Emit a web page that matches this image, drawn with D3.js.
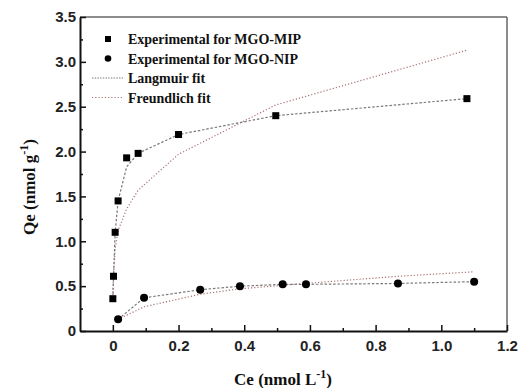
<!DOCTYPE html>
<html>
<head>
<meta charset="utf-8">
<script src="https://cdn.jsdelivr.net/npm/d3@7"></script>
<style>
  body { margin: 0; background: #fff; }
  .tick text { font-family: "Liberation Sans", Arial, sans-serif; font-weight: bold; font-size: 15px; fill: #222; }
  .lbl { font-family: "Liberation Serif", "Times New Roman", serif; font-weight: bold; fill: #111; }
</style>
</head>
<body>
<svg id="chart" width="520" height="388"></svg>
<script>
// MGO-MIP data (squares)
var mipCe = [0.0, 0.002, 0.007, 0.016, 0.042, 0.077, 0.2, 0.496, 1.078];
var mipQe = [0.36, 0.61, 1.10, 1.45, 1.93, 1.98, 2.19, 2.40, 2.59];
var mipLangmuir = [0.36, 0.61, 1.10, 1.45, 1.83, 1.98, 2.19, 2.40, 2.59];
var mipFreundlich = [0.36, 0.60, 0.92, 1.12, 1.36, 1.57, 1.97, 2.52, 3.13];

// MGO-NIP data (circles)
var nipCe = [0.016, 0.095, 0.266, 0.387, 0.517, 0.588, 0.868, 1.1];
var nipQe = [0.13, 0.37, 0.46, 0.50, 0.52, 0.52, 0.53, 0.55];
var nipLangmuir = [0.13, 0.37, 0.46, 0.50, 0.52, 0.52, 0.53, 0.55];
var nipFreundlich = [0.13, 0.27, 0.41, 0.47, 0.51, 0.53, 0.61, 0.66];

var xTicks = [0, 0.2, 0.4, 0.6, 0.8, 1.0, 1.2];
var xMinor = [0.1, 0.3, 0.5, 0.7, 0.9, 1.1];
var yTicks = [0, 0.5, 1.0, 1.5, 2.0, 2.5, 3.0, 3.5];
var yMinor = [0.25, 0.75, 1.25, 1.75, 2.25, 2.75, 3.25];

var legendLabels = ["Experimental for MGO-MIP", "Experimental for MGO-NIP", "Langmuir fit", "Freundlich fit"];

var langColor = "#7a7a7a", freuColor = "#a87070";

// plot box
var plotLeft = 80, plotRight = 507, plotTop = 17, plotBottom = 331;

var svg = d3.select("#chart");

var x = d3.scaleLinear().domain([-0.1, 1.2]).range([plotLeft, plotRight]);
var y = d3.scaleLinear().domain([0, 3.5]).range([plotBottom, plotTop]);

var fmt = function(d) { return d === 0 ? "0" : d3.format(".1f")(d); };

// top and right frame
svg.append("line")
  .attr("x1", x(-0.1)).attr("x2", x(1.2)).attr("y1", y(3.5)).attr("y2", y(3.5))
  .attr("stroke", "#666").attr("stroke-width", 1.5);
svg.append("line")
  .attr("x1", x(1.2)).attr("x2", x(1.2)).attr("y1", y(0)).attr("y2", y(3.5))
  .attr("stroke", "#666").attr("stroke-width", 1.5);

// minor ticks
svg.append("g")
  .attr("transform", "translate(0," + plotBottom + ")")
  .call(d3.axisBottom(x).tickValues(xMinor).tickSize(-3).tickFormat(""))
  .call(function(g) { g.select(".domain").remove(); g.selectAll("line").attr("stroke", "#111").attr("stroke-width", 1.5); });
svg.append("g")
  .attr("transform", "translate(" + plotLeft + ",0)")
  .call(d3.axisLeft(y).tickValues(yMinor).tickSize(-3).tickFormat(""))
  .call(function(g) { g.select(".domain").remove(); g.selectAll("line").attr("stroke", "#111").attr("stroke-width", 1.5); });

// x axis
svg.append("g")
  .attr("transform", "translate(0," + plotBottom + ")")
  .call(d3.axisBottom(x).tickValues(xTicks).tickSizeInner(-6).tickSizeOuter(0).tickPadding(9).tickFormat(fmt))
  .call(function(g) {
    g.select(".domain").attr("stroke", "#111").attr("stroke-width", 2);
    g.selectAll(".tick line").attr("stroke", "#111").attr("stroke-width", 1.5);
  });

// y axis
svg.append("g")
  .attr("transform", "translate(" + plotLeft + ",0)")
  .call(d3.axisLeft(y).tickValues(yTicks).tickSizeInner(-6).tickSizeOuter(0).tickPadding(4).tickFormat(fmt))
  .call(function(g) {
    g.select(".domain").attr("stroke", "#111").attr("stroke-width", 2);
    g.selectAll(".tick line").attr("stroke", "#111").attr("stroke-width", 1.5);
  });

// fit lines
var line = d3.line().x(function(d) { return x(d[0]); }).y(function(d) { return y(d[1]); });

function drawFit(xs, ys, color, dash) {
  svg.append("path")
    .datum(d3.zip(xs, ys))
    .attr("d", line)
    .attr("fill", "none")
    .attr("stroke", color)
    .attr("stroke-width", 1.2)
    .attr("stroke-dasharray", dash);
}
drawFit(mipCe, mipFreundlich, freuColor, "1.2,2");
drawFit(nipCe, nipFreundlich, freuColor, "1.2,2");
drawFit(mipCe, mipLangmuir, langColor, "2.5,1.8");
drawFit(nipCe, nipLangmuir, langColor, "2.5,1.8");

// markers
svg.selectAll(".sq")
  .data(d3.zip(mipCe, mipQe))
  .enter().append("rect")
  .attr("class", "sq")
  .attr("x", function(d) { return x(d[0]) - 3.5; })
  .attr("y", function(d) { return y(d[1]) - 3.5; })
  .attr("width", 7).attr("height", 7)
  .attr("fill", "#000");

svg.selectAll(".dot")
  .data(d3.zip(nipCe, nipQe))
  .enter().append("circle")
  .attr("class", "dot")
  .attr("cx", function(d) { return x(d[0]); })
  .attr("cy", function(d) { return y(d[1]); })
  .attr("r", 4)
  .attr("fill", "#000");

// legend
var legend = svg.append("g").attr("transform", "translate(108,39)");
var rowH = 19.5;
legend.append("rect").attr("x", -3).attr("y", -3).attr("width", 6).attr("height", 6).attr("fill", "#000");
legend.append("circle").attr("cx", 0).attr("cy", rowH).attr("r", 3.3).attr("fill", "#000");
legend.append("line").attr("x1", -16).attr("x2", 15).attr("y1", rowH * 2).attr("y2", rowH * 2)
  .attr("stroke", langColor).attr("stroke-width", 1).attr("stroke-dasharray", "1.5,1.2");
legend.append("line").attr("x1", -16).attr("x2", 15).attr("y1", rowH * 3).attr("y2", rowH * 3)
  .attr("stroke", freuColor).attr("stroke-width", 1).attr("stroke-dasharray", "1.2,2");
legend.selectAll("text")
  .data(legendLabels)
  .enter().append("text")
  .attr("class", "lbl")
  .attr("x", 20)
  .attr("y", function(d, i) { return i * rowH + 5; })
  .style("font-size", "14px")
  .text(function(d) { return d; });

// axis titles
var xt = svg.append("text")
  .attr("class", "lbl")
  .attr("x", 283).attr("y", 385)
  .style("font-size", "17px")
  .attr("text-anchor", "middle");
xt.append("tspan").text("Ce (nmol L");
xt.append("tspan").attr("dy", -7).style("font-size", "12px").text("-1");
xt.append("tspan").attr("dy", 7).text(")");

var yt = svg.append("text")
  .attr("class", "lbl")
  .attr("transform", "translate(35,187) rotate(-90)")
  .style("font-size", "17px")
  .attr("text-anchor", "middle");
yt.append("tspan").text("Qe (nmol g");
yt.append("tspan").attr("dy", -7).style("font-size", "12px").text("-1");
yt.append("tspan").attr("dy", 7).text(")");
</script>
</body>
</html>
